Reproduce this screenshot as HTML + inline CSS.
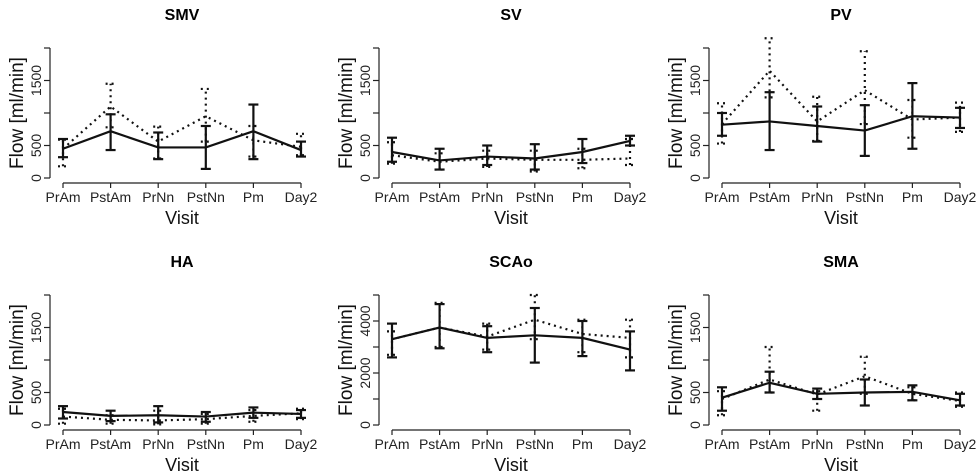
<!DOCTYPE html>
<html><head><meta charset="utf-8">
<style>
body{margin:0;background:#fff;width:977px;height:474px;overflow:hidden}
svg{display:block;font-family:"Liberation Sans",Arial,sans-serif}
</style></head>
<body>
<svg id="c" width="977" height="474" viewBox="0 0 977 474"></svg>
<script>
const categories=["PrAm","PstAm","PrNn","PstNn","Pm","Day2"];
const titles=["SMV","SV","PV","HA","SCAo","SMA"];
const solidMean=[[450,720,470,470,720,430],[400,270,330,300,400,570],[820,870,800,730,950,930],[200,140,150,130,190,170],[3300,3750,3350,3450,3350,2900],[420,650,480,500,510,380]];
const solidLo=[[320,430,290,140,290,330],[250,130,200,130,230,500],[650,430,560,340,450,770],[100,60,40,50,110,110],[2600,2950,2800,2400,2650,2100],[220,500,400,300,380,300]];
const solidHi=[[600,980,700,800,1130,560],[620,450,500,520,600,650],[1000,1320,1100,1120,1460,1080],[290,220,290,200,270,230],[3900,4650,3800,4500,4000,3600],[580,820,560,700,610,480]];
const dotMean=[[450,1100,560,950,580,480],[350,250,300,280,280,300],[830,1650,870,1350,900,930],[130,80,70,90,140,180],[3300,3750,3400,4050,3500,3350],[400,700,470,750,480,370]];
const dotLo=[[180,780,300,560,330,350],[220,130,170,100,150,200],[530,1240,570,830,620,710],[20,20,10,20,50,90],[2700,3000,2900,3300,2800,2600],[150,500,220,480,380,280]];
const dotHi=[[590,1450,790,1370,800,680],[550,380,420,420,450,600],[1150,2150,1250,1950,1200,1160],[250,150,220,170,230,250],[3600,4700,3900,5000,4050,4050],[520,1200,520,1050,580,500]];
const yMax=[2000,2000,2000,2000,5000,2000];
const yTicks=[[0,500,1000,1500,2000],[0,500,1000,1500,2000],[0,500,1000,1500,2000],[0,500,1000,1500,2000],[0,1000,2000,3000,4000,5000],[0,500,1000,1500,2000]];
const yLabels=[["0","500","","1500",""],["0","500","","1500",""],["0","500","","1500",""],["0","500","","1500",""],["0","","2000","","4000",""],["0","500","","1500",""]];
const NS="http://www.w3.org/2000/svg";
const svg=document.getElementById("c");
function mk(tag,attrs,parent,text){const e=document.createElementNS(NS,tag);for(const k in attrs)e.setAttribute(k,attrs[k]);if(text!==undefined)e.textContent=text;parent.appendChild(e);return e;}
const offX=[0,329,659],offY=[0,247];
titles.forEach((t,p)=>{
  const ox=offX[p%3],oy=offY[Math.floor(p/3)];
  const g=mk("g",{transform:`translate(${ox},${oy})`},svg);
  
  
  const x=i=>63+i*47.6;
  const y=v=>178-v/yMax[p]*130;
  const tt=mk("text",{x:182,y:20,"text-anchor":"middle","font-size":"16","font-weight":"bold"},g,t);
  
  
  const ya=mk("g",{},g);
  
  
  mk("line",{x1:50,x2:50,y1:y(0),y2:y(yMax[p]),stroke:"#222","stroke-width":1.2},ya);
  yTicks[p].forEach((v,i)=>{
    mk("line",{x1:44,x2:50,y1:y(v),y2:y(v),stroke:"#222","stroke-width":1.2},ya);
    if(yLabels[p][i]){const l=mk("text",{x:0,y:0,transform:`translate(41,${y(v)}) rotate(-90)`,"text-anchor":"middle","font-size":"14",fill:"#222"},ya,yLabels[p][i]);
      
      }
  });
  const yt=mk("text",{transform:"translate(23,113) rotate(-90)","text-anchor":"middle","font-size":"19",fill:"#111"},g,"Flow [ml/min]");
  
  
  const xa=mk("g",{},g);
  
  
  mk("line",{x1:x(0),x2:x(5),y1:183,y2:183,stroke:"#222","stroke-width":1.2},xa);
  categories.forEach((c,i)=>{
    mk("line",{x1:x(i),x2:x(i),y1:183,y2:188,stroke:"#222","stroke-width":1.2},xa);
    const l=mk("text",{x:x(i),y:202,"text-anchor":"middle","font-size":"14",fill:"#222"},xa,c);
    
    
  });
  const xt=mk("text",{x:182,y:224,"text-anchor":"middle","font-size":"18",fill:"#111"},g,"Visit");
  
  
  const ds=mk("g",{},g);
  
  
  const dash={stroke:"#111","stroke-width":2.2,"stroke-dasharray":"2 4",fill:"none"};
  mk("polyline",Object.assign({points:dotMean[p].map((v,i)=>x(i)+","+y(v)).join(" ")},dash),ds);
  dotMean[p].forEach((v,i)=>{
    mk("line",Object.assign({x1:x(i),x2:x(i),y1:y(dotLo[p][i]),y2:y(dotHi[p][i])},dash),ds);
    [dotLo[p][i],dotHi[p][i]].forEach(e=>mk("line",Object.assign({x1:x(i)-5,x2:x(i)+5,y1:y(e),y2:y(e)},dash),ds));
  });
  const ss=mk("g",{},g);
  
  
  mk("polyline",{points:solidMean[p].map((v,i)=>x(i)+","+y(v)).join(" "),stroke:"#111","stroke-width":2.2,fill:"none"},ss);
  solidMean[p].forEach((v,i)=>{
    mk("line",{x1:x(i),x2:x(i),y1:y(solidLo[p][i]),y2:y(solidHi[p][i]),stroke:"#111","stroke-width":2.2},ss);
    [solidLo[p][i],solidHi[p][i]].forEach(e=>mk("line",{x1:x(i)-5,x2:x(i)+5,y1:y(e),y2:y(e),stroke:"#111","stroke-width":2.2},ss));
  });
});
</script>
</body></html>
